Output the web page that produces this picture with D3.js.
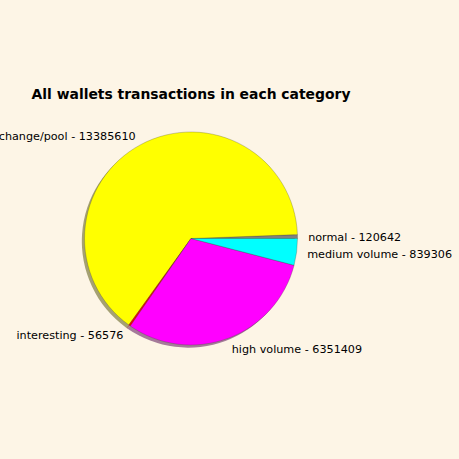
<!DOCTYPE html>
<html lang="en">
<head>
<meta charset="UTF-8">
<title>All wallets transactions in each category</title>
<script src="https://d3js.org/d3.v7.min.js"></script>
<style>
  body { margin: 0; background: #fdf5e6; }
  svg { display: block; font-family: "DejaVu Sans", sans-serif; }
</style>
</head>
<body>
<div id="chart"></div>
<script>
  // data, in matplotlib order (counter-clockwise from 3 o'clock)
  const categories = ["normal", "exchange/pool", "interesting", "high volume", "medium volume"];
  const counts = [120642, 13385610, 56576, 6351409, 839306];
  const colours = ["#808080", "#ffff00", "#ff0000", "#ff00ff", "#00ffff"];

  const w = 459, h = 459;
  const cx = 191, cy = 238.5, r = 106.5;

  const svg = d3.select("#chart")
    .append("svg")
    .attr("width", w)
    .attr("height", h);

  svg.append("rect")
    .attr("width", w)
    .attr("height", h)
    .attr("fill", "#fdf5e6");

  svg.append("text")
    .attr("x", cx)
    .attr("y", 95)
    .attr("text-anchor", "middle")
    .attr("dominant-baseline", "middle")
    .attr("font-size", "13.9px")
    .attr("font-weight", "bold")
    .text("All wallets transactions in each category");

  // matplotlib angles: start at 0 rad (east), go counter-clockwise.
  // d3 angles: 0 at north, clockwise -> convert: d3 = PI/2 - mpl
  const total = d3.sum(counts);
  const angle = d3.scaleLinear().domain([0, total]).range([0, 2 * Math.PI]);
  let acc = 0;
  const slices = counts.map((v, i) => {
    const a0 = angle(acc);
    acc += v;
    const a1 = angle(acc);
    return { name: categories[i], value: v, colour: colours[i], a0, a1 };
  });

  const arc = d3.arc()
    .innerRadius(0)
    .outerRadius(r)
    .startAngle(d => Math.PI / 2 - d.a1)
    .endAngle(d => Math.PI / 2 - d.a0);

  // shadow
  const shadowOff = r * 0.025;
  svg.append("g")
    .attr("transform", `translate(${cx - shadowOff},${cy + shadowOff})`)
    .selectAll("path")
    .data(slices)
    .join("path")
    .attr("d", arc)
    .attr("fill", d => {
      const c = d3.rgb(d.colour);
      return `rgb(${c.r * 0.3},${c.g * 0.3},${c.b * 0.3})`;
    })
    .attr("fill-opacity", 0.5);

  svg.append("g")
    .attr("transform", `translate(${cx},${cy})`)
    .selectAll("path")
    .data(slices)
    .join("path")
    .attr("d", arc)
    .attr("fill", d => d.colour)
    .attr("stroke", "rgba(60,60,40,0.45)")
    .attr("stroke-width", 0.6);

  // labels at 1.1 * r, mid angle
  svg.append("g")
    .attr("transform", `translate(${cx},${cy + 2})`)
    .selectAll("text")
    .data(slices)
    .join("text")
    .attr("x", d => 1.1 * r * Math.cos((d.a0 + d.a1) / 2))
    .attr("y", d => -1.1 * r * Math.sin((d.a0 + d.a1) / 2))
    .attr("text-anchor", d => Math.cos((d.a0 + d.a1) / 2) > 0 ? "start" : "end")
    .attr("dominant-baseline", "middle")
    .attr("font-size", "11.2px")
    .attr("fill", "#000")
    .text(d => d.name + " - " + d.value);
</script>
</body>
</html>
